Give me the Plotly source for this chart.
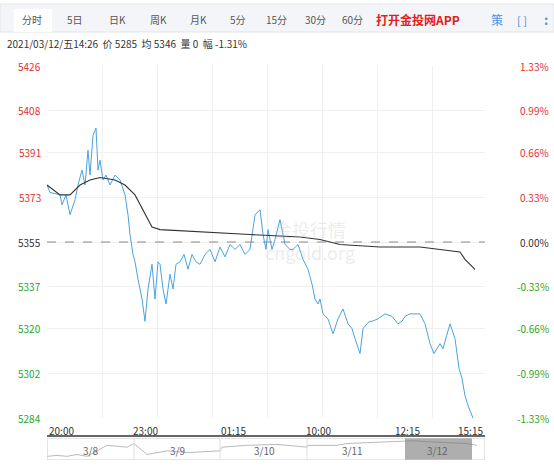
import plotly.graph_objects as go

W, H = 554, 467
L, R, T, Bm = 47, 485, 66, 460
ymin, ymax = 5284, 5426
xmax = 438

px_x = [0,3,13,15,19,23,28,31,35,38,41,43,46,49,51,53,56,59,63,68,73,78,81,83,86,88,91,95,98,101,105,108,111,113,116,119,123,126,129,133,137,141,145,149,153,158,163,168,173,178,183,188,193,198,203,208,213,216,219,221,225,228,233,238,243,246,251,256,261,265,268,271,273,276,281,286,291,296,301,305,308,313,316,320,323,325,331,338,345,351,355,358,363,368,373,378,383,387,393,396,399,403,408,412,415,418,421,424,426,428]
price = [5378,5375,5374,5370,5374,5366,5372,5378,5384,5378,5392,5382,5398,5401,5384,5388,5380,5382,5378,5382,5380,5374,5366,5358,5350,5347,5340,5332,5323,5336,5346,5332,5347,5346,5336,5330,5342,5336,5346,5347,5350,5344,5350,5347,5346,5350,5352,5347,5353,5349,5354,5352,5354,5350,5352,5366,5368,5358,5352,5360,5352,5356,5364,5354,5352,5352,5354,5348,5344,5338,5332,5330,5332,5326,5324,5318,5324,5328,5322,5320,5316,5310,5320,5322,5323,5323,5324,5326,5325,5322,5323,5325,5326,5326,5326,5322,5314,5310,5314,5312,5316,5322,5316,5304,5300,5293,5289,5286,5284]
avg_x = [0,13,23,33,43,53,68,78,88,98,105,113,153,203,253,273,293,333,373,413,418,425,428]
avg = [5378,5374,5374,5378,5380,5381,5380,5378,5374,5366,5361,5360,5359,5358,5357,5356,5354,5353,5353,5351,5348,5345,5344]
yticks = [5426,5408,5391,5373,5355,5337,5320,5302,5284]
pct = ["1.33%","0.99%","0.66%","0.33%","0.00%","-0.33%","-0.66%","-0.99%","-1.33%"]
xtick_pos = [0,98,186,271,360,438]
xtick_lab = ["20:00","23:00","01:15","10:00","12:15","15:15"]
nav_x = [0,10,20,30,40,60,80,87,100,120,140,173,175,200,230,260,261,290,300,340,350,366,380,420,430]
nav_v = [2,2.5,2,3,2,8,7,9,3,5,4,5,7,8,8.5,7,8,8,9,10,10.5,10.5,10,9,8]
nav_days = ["3/8","3/9","3/10","3/11","3/12"]
nav_day_x = [43,130,217,305,390]

def py(p):  # pixel y -> paper
    return (Bm - p) / (Bm - T)
def pxp(p):  # pixel x -> paper
    return (p - L) / (R - L)

fig = go.Figure()
fig.add_trace(go.Scatter(x=px_x, y=price, mode="lines", line=dict(color="#4ba3e0", width=1), hoverinfo="skip"))
fig.add_trace(go.Scatter(x=avg_x, y=avg, mode="lines", line=dict(color="#333", width=1.1), hoverinfo="skip"))
fig.add_trace(go.Scatter(x=nav_x, y=nav_v, mode="lines", line=dict(color="#bbb", width=1), xaxis="x2", yaxis="y2", hoverinfo="skip"))

for v, p in zip(yticks, pct):
    c = "#e03030" if v > 5355 else ("#333" if v == 5355 else "#2aa52a")
    fig.add_annotation(x=-0.01, y=v, xref="paper", yref="y", text=str(v), showarrow=False,
                       xanchor="right", yanchor="middle", font=dict(size=10, color=c))
    fig.add_annotation(x=pxp(551), y=v, xref="paper", yref="y", text=p, showarrow=False,
                       xanchor="right", yanchor="middle", font=dict(size=10, color=c))
for p, lab in zip(xtick_pos, xtick_lab):
    fig.add_annotation(x=p, y=py(421), xref="x", yref="paper", text=lab, showarrow=False,
                       xanchor="left" if p == 0 else ("right" if p == xmax else "center"),
                       yanchor="top", font=dict(size=10, color="#333"))
for d, x in zip(nav_days, nav_day_x):
    fig.add_annotation(x=x, y=5, xref="x2", yref="y2", text=d, showarrow=False, font=dict(size=10, color="#666"))

fig.add_shape(type="line", xref="x", yref="y", x0=0, x1=xmax, y0=5355, y1=5355, line=dict(color="#888", dash="dash", width=1))
fig.add_shape(type="rect", xref="x2", yref="y2", x0=358, x1=425, y0=0, y1=12, fillcolor="rgba(120,120,120,0.6)", line=dict(width=0))
fig.add_shape(type="rect", xref="x2", yref="y2", x0=0, x1=xmax, y0=0, y1=12, line=dict(color="#ccc", width=1))
for x in [87,173,260]:
    fig.add_shape(type="line", xref="x2", yref="y2", x0=x, x1=x, y0=0, y1=12, line=dict(color="#ddd", width=1))
fig.add_shape(type="line", xref="paper", yref="paper", x0=0, x1=1, y0=py(436), y1=py(436), line=dict(color="#333", width=1.5))

# header
tabs = ["分时","5日","日K","周K","月K","5分","15分","30分","60分"]
tab_x = [32,75,117,158,198,238,276,315,352]
fig.add_shape(type="rect", xref="paper", yref="paper", x0=pxp(0), x1=pxp(W), y0=py(32), y1=py(4), fillcolor="#f3f5f8", line=dict(color="#e3e6ea", width=1), layer="below")
fig.add_shape(type="rect", xref="paper", yref="paper", x0=pxp(14), x1=pxp(52), y0=py(32), y1=py(9), fillcolor="white", line=dict(width=0), layer="below")
for t, x in zip(tabs, tab_x):
    fig.add_annotation(x=pxp(x), y=py(20), xref="paper", yref="paper", text=t, showarrow=False,
                       xanchor="center", yanchor="middle", font=dict(size=10, color="#555"))
hdr = [("<b>打开金投网APP</b>", 418, 12, "#e02020"), ("策", 497, 12, "#4a90e2"), ("[ ]", 522, 11, "#4a90e2"), ("<b>:</b>", 546, 13, "#4a90e2")]
for t, x, s, c in hdr:
    fig.add_annotation(x=pxp(x), y=py(20), xref="paper", yref="paper", text=t, showarrow=False,
                       xanchor="center", yanchor="middle", font=dict(size=s, color=c))
fig.add_annotation(x=pxp(5), y=py(44), xref="paper", yref="paper", xanchor="left", yanchor="middle",
                   text="2021/03/12/五14:26  价 5285  均 5346  量 0  幅 -1.31%", showarrow=False, font=dict(size=10, color="#333"))
fig.add_annotation(x=0.6, y=py(240), xref="paper", yref="paper", text="金投行情<br>cngold.org", showarrow=False,
                   xanchor="center", yanchor="middle", font=dict(size=18, color="rgba(200,200,200,0.35)"))

fig.update_layout(
    width=W, height=H, margin=dict(l=L, r=W-R, t=T, b=H-Bm),
    paper_bgcolor="white", plot_bgcolor="white", showlegend=False,
    font=dict(family="Noto Sans CJK SC"),
    xaxis=dict(range=[0, xmax], showticklabels=False, showgrid=True, gridcolor="#f0f0f0",
               tickvals=[55,110,165,220,275,330,385], zeroline=False),
    yaxis=dict(range=[ymin, ymax], domain=[py(418), 1], tickvals=yticks, showticklabels=False, showgrid=True, gridcolor="#f0f0f0", zeroline=False),
    xaxis2=dict(range=[0, xmax], domain=[0, 1], anchor="y2", visible=False),
    yaxis2=dict(range=[0, 12], domain=[0, py(438)], visible=False),
)
fig.write_html("out.html", config={"displayModeBar": False},
               post_script="document.body.style.margin='0';document.body.style.overflow='hidden';")
